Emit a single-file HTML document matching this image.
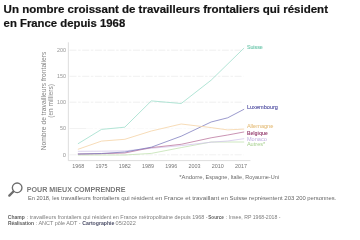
<!DOCTYPE html>
<html><head><meta charset="utf-8"><style>
html,body{margin:0;padding:0;background:#fff;width:360px;height:230px;overflow:hidden}
svg{display:block;will-change:transform}
text{font-family:"Liberation Sans",sans-serif}
</style></head><body>
<svg width="360" height="230" viewBox="0 0 360 230">
<text x="3.6" y="12.6" font-size="11.0" font-weight="bold" fill="#141414" stroke="#141414" stroke-width="0.2" textLength="324.4" lengthAdjust="spacingAndGlyphs">Un nombre croissant de travailleurs frontaliers qui résident</text>
<text x="3.6" y="26.5" font-size="11.0" font-weight="bold" fill="#141414" stroke="#141414" stroke-width="0.2" textLength="121.6" lengthAdjust="spacingAndGlyphs">en France depuis 1968</text>
<line x1="69.5" y1="50.2" x2="243.5" y2="50.2" stroke="#e4e4e4" stroke-width="0.55" stroke-dasharray="7 1.6 2.5 1.6"/>
<text x="66.0" y="52.15" font-size="6.1" fill="#969696" text-anchor="end" textLength="9.0" lengthAdjust="spacingAndGlyphs">200</text>
<line x1="69.5" y1="76.3" x2="243.5" y2="76.3" stroke="#e4e4e4" stroke-width="0.55" stroke-dasharray="7 1.6 2.5 1.6"/>
<text x="66.0" y="78.25" font-size="6.1" fill="#969696" text-anchor="end" textLength="9.0" lengthAdjust="spacingAndGlyphs">150</text>
<line x1="69.5" y1="102.2" x2="243.5" y2="102.2" stroke="#e4e4e4" stroke-width="0.55" stroke-dasharray="7 1.6 2.5 1.6"/>
<text x="66.0" y="104.15" font-size="6.1" fill="#969696" text-anchor="end" textLength="9.0" lengthAdjust="spacingAndGlyphs">100</text>
<line x1="69.5" y1="128.5" x2="86" y2="128.5" stroke="#e8e8e8" stroke-width="0.55"/>
<line x1="86" y1="128.5" x2="243.5" y2="128.5" stroke="#f4f4f4" stroke-width="0.5" stroke-dasharray="7 1.6 2.5 1.6"/>
<text x="66.0" y="130.45" font-size="6.1" fill="#969696" text-anchor="end" textLength="6.0" lengthAdjust="spacingAndGlyphs">50</text>
<line x1="69.5" y1="154.8" x2="243.5" y2="154.8" stroke="#e4e4e4" stroke-width="0.55" stroke-dasharray="7 1.6 2.5 1.6"/>
<text x="66.0" y="156.75" font-size="6.1" fill="#969696" text-anchor="end" textLength="3.2" lengthAdjust="spacingAndGlyphs">0</text>
<line x1="68.35" y1="42.3" x2="68.35" y2="160.6" stroke="#d4d4d4" stroke-width="0.8"/>
<line x1="68.35" y1="160.6" x2="250.4" y2="160.6" stroke="#d4d4d4" stroke-width="0.8"/>
<text x="78.25" y="167.9" font-size="5.4" fill="#767676" text-anchor="middle">1968</text>
<text x="101.50" y="167.9" font-size="5.4" fill="#767676" text-anchor="middle">1975</text>
<text x="124.75" y="167.9" font-size="5.4" fill="#767676" text-anchor="middle">1982</text>
<text x="148.00" y="167.9" font-size="5.4" fill="#767676" text-anchor="middle">1989</text>
<text x="171.25" y="167.9" font-size="5.4" fill="#767676" text-anchor="middle">1996</text>
<text x="194.50" y="167.9" font-size="5.4" fill="#767676" text-anchor="middle">2003</text>
<text x="217.75" y="167.9" font-size="5.4" fill="#767676" text-anchor="middle">2010</text>
<text x="241.00" y="167.9" font-size="5.4" fill="#767676" text-anchor="middle">2017</text>
<text transform="translate(45.7,100.95) rotate(-90)" font-size="6.5" fill="#858585" text-anchor="middle" textLength="98.7" lengthAdjust="spacingAndGlyphs">Nombre de travailleurs frontaliers</text>
<text transform="translate(53.3,100.9) rotate(-90)" font-size="6.5" fill="#858585" text-anchor="middle">(en milliers)</text>
<path d="M78.25,155.00 L101.50,155.00 L124.75,155.00 L151.32,153.40 L181.21,147.60 L211.11,142.00 L227.71,142.00 L243.80,142.00" fill="none" stroke="#bfe0ae" stroke-width="0.75" stroke-linejoin="round" stroke-linecap="round"/>
<path d="M78.25,151.30 L101.50,151.20 L124.75,150.90 L151.32,148.30 L181.21,145.60 L211.11,142.20 L227.71,141.00 L243.80,138.70" fill="none" stroke="#d2c4ea" stroke-width="0.75" stroke-linejoin="round" stroke-linecap="round"/>
<path d="M78.25,154.00 L101.50,153.70 L124.75,153.00 L151.32,147.60 L181.21,144.30 L211.11,137.80 L227.71,135.00 L243.80,132.00" fill="none" stroke="#b8709a" stroke-width="0.75" stroke-linejoin="round" stroke-linecap="round"/>
<path d="M78.25,154.00 L101.50,153.50 L124.75,152.00 L151.32,147.20 L181.21,136.20 L211.11,122.00 L227.71,117.80 L243.80,109.40" fill="none" stroke="#7a78bc" stroke-width="0.75" stroke-linejoin="round" stroke-linecap="round"/>
<path d="M78.25,149.20 L101.50,141.10 L124.75,139.30 L151.32,131.00 L181.21,124.00 L211.11,127.60 L227.71,129.90 L243.80,129.10" fill="none" stroke="#f4d0a0" stroke-width="0.75" stroke-linejoin="round" stroke-linecap="round"/>
<path d="M78.25,143.60 L101.50,129.40 L124.75,127.20 L151.32,100.90 L181.21,103.50 L211.11,80.20 L243.80,48.30" fill="none" stroke="#98dcc8" stroke-width="0.75" stroke-linejoin="round" stroke-linecap="round"/>
<text x="246.9" y="49.0" font-size="5.3" fill="#72c8ae" stroke="#72c8ae" stroke-width="0.12">Suisse</text>
<text x="246.9" y="109.0" font-size="5.6" fill="#5c5aa8" stroke="#5c5aa8" stroke-width="0.15" textLength="31.1" lengthAdjust="spacingAndGlyphs">Luxembourg</text>
<text x="246.9" y="127.6" font-size="5.6" fill="#e4bc78" stroke="#e4bc78" stroke-width="0.05">Allemagne</text>
<text x="246.9" y="134.5" font-size="5.6" font-weight="bold" fill="#974070" textLength="20.9" lengthAdjust="spacingAndGlyphs">Belgique</text>
<text x="246.9" y="141.0" font-size="5.6" fill="#bfaee0">Monaco</text>
<text x="246.9" y="145.5" font-size="5.6" fill="#a6d08e">Autres*</text>
<text x="179.2" y="178.55" font-size="5.6" fill="#6a6a6a" textLength="25.0" lengthAdjust="spacingAndGlyphs">*Andorre,</text>
<text x="205.6" y="178.55" font-size="5.6" fill="#6a6a6a" textLength="73.4" lengthAdjust="spacingAndGlyphs">Espagne, Italie, Royaume-Uni</text>
<circle cx="17.15" cy="187.75" r="4.8" fill="none" stroke="#6d6d6d" stroke-width="1.35"/>
<line x1="13.9" y1="191.0" x2="12.6" y2="192.3" stroke="#6d6d6d" stroke-width="1.3"/><line x1="12.9" y1="192.0" x2="9.3" y2="195.6" stroke="#6d6d6d" stroke-width="2.3" stroke-linecap="round"/>
<text x="26.8" y="191.7" font-size="6.6" font-weight="bold" fill="#7a7a7a" textLength="98.6" lengthAdjust="spacingAndGlyphs">POUR MIEUX COMPRENDRE</text>
<text x="27.9" y="200.0" font-size="5.5" fill="#666666" textLength="31.5" lengthAdjust="spacingAndGlyphs">En 2018, les</text>
<text x="61.0" y="200.0" font-size="5.5" fill="#666666" textLength="68.6" lengthAdjust="spacingAndGlyphs">travailleurs frontaliers qui</text>
<text x="131.2" y="200.0" font-size="5.5" fill="#666666" textLength="96.7" lengthAdjust="spacingAndGlyphs">résident en France et travaillant en</text>
<text x="229.5" y="200.0" font-size="5.5" fill="#666666" textLength="64.8" lengthAdjust="spacingAndGlyphs">Suisse représentent 203</text>
<text x="295.9" y="200.0" font-size="5.5" fill="#666666" textLength="40.5" lengthAdjust="spacingAndGlyphs">200 personnes.</text>
<text x="7.8" y="219.0" font-size="5.2" font-weight="bold" fill="#5e5e5e" textLength="16.9" lengthAdjust="spacingAndGlyphs">Champ</text>
<text x="26.8" y="219.0" font-size="5.2" fill="#7e7e7e" textLength="180.8" lengthAdjust="spacingAndGlyphs">: travailleurs frontaliers qui résident en France métropolitaine depuis 1968 -</text>
<text x="208.3" y="219.0" font-size="5.2" font-weight="bold" fill="#5e5e5e" textLength="15.6" lengthAdjust="spacingAndGlyphs">Source</text>
<text x="225.9" y="219.0" font-size="5.2" fill="#7e7e7e" textLength="54.6" lengthAdjust="spacingAndGlyphs">: Insee, RP 1968-2018 -</text>
<text x="7.9" y="224.8" font-size="5.2" font-weight="bold" fill="#5e5e5e" textLength="26.2" lengthAdjust="spacingAndGlyphs">Réalisation</text>
<text x="35.7" y="224.8" font-size="5.2" fill="#7e7e7e" textLength="44.8" lengthAdjust="spacingAndGlyphs">: ANCT pôle ADT -</text>
<text x="82.3" y="224.8" font-size="5.2" font-weight="bold" fill="#4a4c66" textLength="32.1" lengthAdjust="spacingAndGlyphs">Cartographie</text>
<text x="115.6" y="224.8" font-size="5.2" fill="#7e7e7e" textLength="20.2" lengthAdjust="spacingAndGlyphs">05/2022</text>
</svg></body></html>
